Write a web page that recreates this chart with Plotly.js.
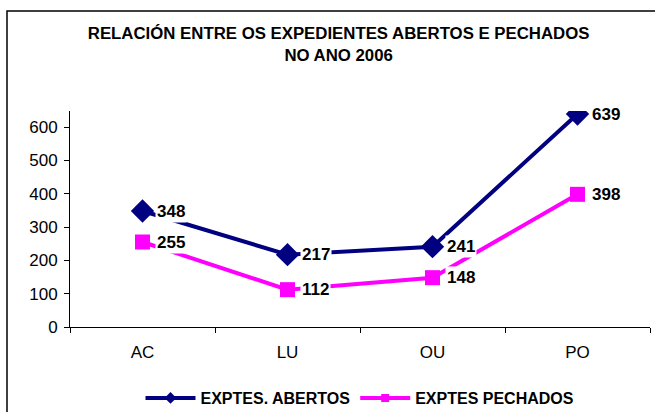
<!DOCTYPE html>
<html>
<head>
<meta charset="utf-8">
<script src="https://cdn.plot.ly/plotly-3.0.1.min.js"></script>
<style>html,body{margin:0;padding:0;background:#fff;}#chart{width:655px;height:412px;}</style>
</head>
<body>
<div id="chart"></div>
<script>
const categories = ["AC", "LU", "OU", "PO"];
const abertos = [348, 217, 241, 639];
const pechados = [255, 112, 148, 398];
const seriesNames = ["EXPTES. ABERTOS", "EXPTES PECHADOS"];
const yTicks = [0, 100, 200, 300, 400, 500, 600];
const titleText = "RELACIÓN ENTRE OS EXPEDIENTES ABERTOS E PECHADOS<br>NO ANO 2006";

const navy = "#000080";
const magenta = "#FF00FF";
const FONT = "'Liberation Sans', Arial, sans-serif";

const traces = [
  {
    x: categories, y: abertos, name: seriesNames[0], type: "scatter", mode: "lines+markers",
    line: {color: navy, width: 4}, showlegend: false,
    marker: {symbol: "diamond", size: 18, color: navy}
  },
  {
    x: categories, y: pechados, name: seriesNames[1], type: "scatter", mode: "lines+markers",
    line: {color: magenta, width: 4}, showlegend: false,
    marker: {symbol: "square", size: 15, color: magenta}
  },
  // legend-only entries (no data) with smaller markers as in the reference legend
  {
    x: [null], y: [null], name: "<b>" + seriesNames[0] + "</b>", type: "scatter", mode: "lines+markers",
    line: {color: navy, width: 4}, marker: {symbol: "diamond", size: 9, color: navy}
  },
  {
    x: [null], y: [null], name: "<b>" + seriesNames[1] + "</b>", type: "scatter", mode: "lines+markers",
    line: {color: magenta, width: 4}, marker: {symbol: "square", size: 8, color: magenta}
  }
];

const annotations = [];
[abertos, pechados].forEach(vals => {
  vals.forEach((v, i) => {
    annotations.push({
      x: categories[i], y: v, xref: "x", yref: "y", text: "<b>" + v + "</b>",
      showarrow: false, xanchor: "left", yanchor: "middle", xshift: 12,
      bgcolor: "#ffffff", borderpad: 1,
      font: {family: FONT, size: 17, color: "#000"}
    });
  });
});

const layout = {
  width: 655, height: 412,
  margin: {l: 70, r: 5, t: 111, b: 85, autoexpand: false},
  paper_bgcolor: "#fff", plot_bgcolor: "#fff",
  title: {
    text: "<b>" + titleText + "</b>",
    font: {family: FONT, size: 16.8, color: "#000"},
    x: 0.517, xanchor: "center", y: 0.905, yanchor: "top", yref: "container"
  },
  showlegend: true,
  legend: {
    orientation: "h", x: 0.5, xanchor: "center", yref: "container", y: 0.034, yanchor: "middle",
    font: {family: FONT, size: 16, color: "#000"},
    traceorder: "normal", itemwidth: 50
  },
  xaxis: {
    type: "category", range: [-0.5, 3.5], tickson: "boundaries",
    ticks: "outside", ticklen: 5, tickcolor: "#000", tickwidth: 1,
    showline: true, linecolor: "#000", linewidth: 1, showgrid: false, zeroline: false,
    ticklabelstandoff: 10,
    tickfont: {family: FONT, size: 17, color: "#000"}, fixedrange: true
  },
  yaxis: {
    range: [0, 648], tickvals: yTicks, ticktext: yTicks.map(String),
    ticks: "outside", ticklen: 5, tickcolor: "#000", tickwidth: 1,
    showline: true, linecolor: "#000", linewidth: 1, showgrid: false, zeroline: false,
    ticklabelstandoff: 3,
    tickfont: {family: FONT, size: 17, color: "#000"}, fixedrange: true
  },
  annotations: annotations,
  shapes: [{
    type: "rect", xref: "paper", yref: "paper",
    x0: (7 - 70) / 580, x1: (662 - 70) / 580,
    y0: (327 - 420) / 216, y1: (327 - 11) / 216,
    line: {color: "#000", width: 1.5}, fillcolor: "rgba(0,0,0,0)", layer: "below"
  }]
};

Plotly.newPlot("chart", traces, layout, {displayModeBar: false, staticPlot: true});
</script>
</body>
</html>
